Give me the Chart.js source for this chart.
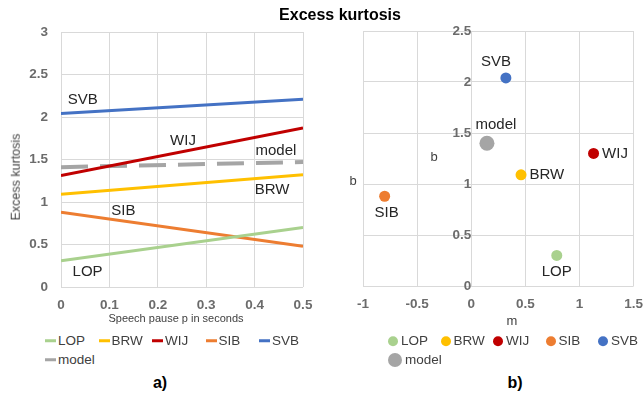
<!DOCTYPE html>
<html>
<head>
<meta charset="utf-8">
<script src="https://cdn.jsdelivr.net/npm/chart.js@4.4.0/dist/chart.umd.min.js"></script>
<style>
  body { margin: 0; width: 643px; height: 394px; background: #fff; position: relative; overflow: hidden;
         font-family: "Liberation Sans", Arial, sans-serif; color: #404040; }
  canvas { position: absolute; top: 0; }
  .txt { position: absolute; white-space: nowrap; transform: translate(-50%, -50%); line-height: 1; }
  .leg { position: absolute; white-space: nowrap; font-size: 13.5px; line-height: 1; display: flex; align-items: center; transform: translateY(-50%); }
  .leg .bar { width: 11px; height: 3px; margin-right: 2px; }
  .leg .dot { border-radius: 50%; margin-right: 3px; }
</style>
</head>
<body>
<canvas id="lineChart" style="left:0;width:330px;height:330px"></canvas>
<canvas id="dotChart" style="left:330px;width:323px;height:330px"></canvas>

<div class="txt" style="left:340px;top:15px;font-size:16px;font-weight:bold;color:#000">Excess kurtosis</div>
<div class="txt" style="left:16px;top:177px;font-size:12.5px;transform:translate(-50%,-50%) rotate(-90deg)">Excess kurtosis</div>
<div class="txt" style="left:176px;top:318px;font-size:11px">Speech pause p in seconds</div>
<div class="txt" style="left:512px;top:320px;font-size:13px">m</div>
<div class="txt" style="left:353px;top:180px;font-size:13px">b</div>
<div class="txt" style="left:434px;top:156px;font-size:13px">b</div>
<div class="txt" style="left:160px;top:383px;font-size:16px;font-weight:bold;color:#000">a)</div>
<div class="txt" style="left:515px;top:383px;font-size:16px;font-weight:bold;color:#000">b)</div>
<div id="legendA"></div>
<div id="legendB"></div>

<script>
// series
const seriesNames = ['LOP', 'BRW', 'WIJ', 'SIB', 'SVB', 'model'];
const seriesColors = ['#A9D18E', '#FFC000', '#C00000', '#ED7D31', '#4472C4', '#A5A5A5'];

// a) excess kurtosis against speech pause
const pauseSeconds = [0, 0.5];
const lopKurtosis = [0.31, 0.70];
const brwKurtosis = [1.09, 1.32];
const wijKurtosis = [1.31, 1.87];
const sibKurtosis = [0.88, 0.48];
const svbKurtosis = [2.04, 2.21];
const modelKurtosis = [1.41, 1.47];

// b) slope m and intercept b of each line
const slopeM = [0.79, 0.46, 1.13, -0.80, 0.32, 0.145];
const interceptB = [0.30, 1.09, 1.30, 0.88, 2.04, 1.40];

// where the series names sit in a), in data units
const lineLabelSpots = [[0.055, 0.176], [0.436, 1.14], [0.252, 1.725], [0.129, 0.89], [0.045, 2.2], [0.444, 1.6]];
// where the names sit next to the points in b)
const dotLabelSides = ['below', 'right', 'right', 'below', 'above', 'above'];
const dotLabelNudge = [0, 0, 0, 2, -10, 9];

const FONT = '"Liberation Sans", Arial, sans-serif';
const tickFont = { family: FONT, size: 13.5, weight: 'bold' };
const tickColor = '#6b6b6b';
const gridColor = '#d9d9d9';
const plainNumber = v => String(+Number(v).toFixed(2));

const seriesLabels = {
  id: 'seriesLabels',
  afterDatasetsDraw(chart, args, opts) {
    const ctx = chart.ctx;
    ctx.save();
    ctx.font = '15px ' + FONT;
    ctx.fillStyle = '#262626';
    ctx.textBaseline = 'middle';
    if (opts.spots) {
      ctx.textAlign = 'center';
      opts.spots.forEach((s, i) => {
        ctx.fillText(seriesNames[i], chart.scales.x.getPixelForValue(s[0]), chart.scales.y.getPixelForValue(s[1]));
      });
    }
    if (opts.sides) {
      opts.sides.forEach((side, i) => {
        const pt = chart.getDatasetMeta(i).data[0];
        const r = chart.data.datasets[i].pointRadius;
        const dx = opts.nudge[i];
        if (side === 'right') {
          ctx.textAlign = 'left';
          ctx.fillText(seriesNames[i], pt.x + r + 3, pt.y);
        } else if (side === 'above') {
          ctx.textAlign = 'center';
          ctx.fillText(seriesNames[i], pt.x + dx, pt.y - r - 11);
        } else {
          ctx.textAlign = 'center';
          ctx.fillText(seriesNames[i], pt.x + dx, pt.y + r + 11);
        }
      });
    }
    ctx.restore();
  }
};

const kurtosisRows = [lopKurtosis, brwKurtosis, wijKurtosis, sibKurtosis, svbKurtosis, modelKurtosis];

new Chart(document.getElementById('lineChart'), {
  type: 'line',
  data: {
    datasets: kurtosisRows.map((row, i) => ({
      label: seriesNames[i],
      data: pauseSeconds.map((p, j) => ({ x: p, y: row[j] })),
      borderColor: seriesColors[i],
      borderWidth: seriesNames[i] === 'model' ? 4 : 3,
      borderDash: seriesNames[i] === 'model' ? [27, 12] : [],
      pointRadius: 0,
      fill: false
    }))
  },
  options: {
    responsive: false,
    animation: false,
    layout: { padding: { top: 32, right: 27, left: 0, bottom: 0 } },
    plugins: { legend: { display: false }, tooltip: { enabled: false }, seriesLabels: { spots: lineLabelSpots } },
    scales: {
      x: {
        type: 'linear', min: 0, max: 0.5,
        ticks: { stepSize: 0.1, padding: 10, font: tickFont, color: tickColor, callback: plainNumber },
        grid: { color: gridColor, drawTicks: false },
        border: { display: false },
        afterFit(s) { s.height = 43; }
      },
      y: {
        min: 0, max: 3,
        ticks: { stepSize: 0.5, padding: 13, font: tickFont, color: tickColor, callback: plainNumber },
        grid: { color: gridColor, drawTicks: false },
        border: { display: false },
        afterFit(s) { s.width = 61; }
      }
    }
  },
  plugins: [seriesLabels]
});

new Chart(document.getElementById('dotChart'), {
  type: 'scatter',
  data: {
    datasets: seriesNames.map((name, i) => ({
      label: name,
      data: [{ x: slopeM[i], y: interceptB[i] }],
      backgroundColor: seriesColors[i],
      borderWidth: 0,
      pointRadius: name === 'model' ? 7.5 : 5.5
    }))
  },
  options: {
    responsive: false,
    animation: false,
    layout: { padding: { top: 31, right: 0, left: 33, bottom: 0 } },
    plugins: { legend: { display: false }, tooltip: { enabled: false }, seriesLabels: { sides: dotLabelSides, nudge: dotLabelNudge } },
    scales: {
      x: {
        type: 'linear', min: -1, max: 1.5,
        ticks: { stepSize: 0.5, padding: 10, font: tickFont, color: tickColor, callback: plainNumber },
        grid: { color: gridColor, drawTicks: false },
        border: { display: false },
        afterFit(s) { s.height = 44; }
      },
      y: {
        type: 'linear', min: 0, max: 2.5,
        position: { x: 0 },
        ticks: { stepSize: 0.5, padding: 12, font: tickFont, color: tickColor, callback: plainNumber },
        grid: { color: gridColor, drawTicks: false },
        border: { color: gridColor }
      }
    }
  },
  plugins: [seriesLabels]
});

// legends under each panel, fixed-width columns like the original
function buildLegend(id, firstX, step, rowY, kind) {
  const box = document.getElementById(id);
  seriesNames.forEach((name, i) => {
    const row = i < 5 ? 0 : 1;
    const col = i < 5 ? i : 0;
    const item = document.createElement('div');
    item.className = 'leg';
    item.style.left = (firstX + col * step) + 'px';
    item.style.top = rowY[row] + 'px';
    const mark = document.createElement('span');
    if (kind === 'line') {
      mark.className = 'bar';
      mark.style.background = seriesColors[i];
    } else {
      const d = name === 'model' ? 14 : 10;
      mark.className = 'dot';
      mark.style.width = d + 'px';
      mark.style.height = d + 'px';
      mark.style.background = seriesColors[i];
    }
    item.appendChild(mark);
    item.appendChild(document.createTextNode(name));
    box.appendChild(item);
  });
}
buildLegend('legendA', 45, 53.5, [341, 360], 'line');
buildLegend('legendB', 388, 52.5, [341, 360], 'dot');
</script>
</body>
</html>
